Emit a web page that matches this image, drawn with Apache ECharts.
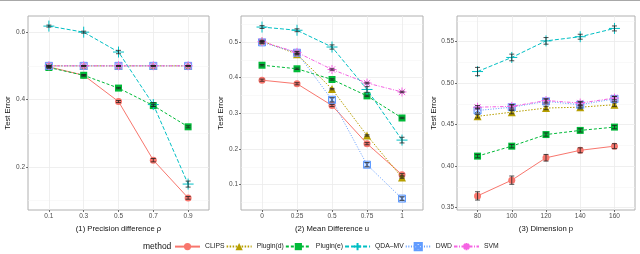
<!DOCTYPE html>
<html><head><meta charset="utf-8">
<script src="https://cdn.jsdelivr.net/npm/echarts@6/dist/echarts.min.js"></script>
<style>html,body{margin:0;padding:0;background:#fff}#c{width:640px;height:254px}</style>
</head><body><div id="c"></div>
<script>
// ---------- data ----------
const methods = ['CLIPS', 'Plugin(d)', 'Plugin(e)', 'QDA–MV', 'DWD', 'SVM'];

const rhoLabels = ['0.1', '0.3', '0.5', '0.7', '0.9'];
const uLabels = ['0', '0.25', '0.5', '0.75', '1'];
const pLabels = ['80', '100', '120', '140', '160'];

// panel 1: Precision difference rho (rows follow `methods`)
const p1Values = [
  [0.497, 0.472, 0.394, 0.220, 0.108],
  [0.500, 0.500, 0.500, 0.500, 0.500],
  [0.495, 0.472, 0.434, 0.382, 0.319],
  [0.618, 0.600, 0.541, 0.385, 0.149],
  [0.500, 0.500, 0.500, 0.500, 0.500],
  [0.500, 0.500, 0.500, 0.500, 0.500]
];
const p1Errors = [
  [0.002, 0.002, 0.003, 0.005, 0.004],
  [0.001, 0.001, 0.001, 0.001, 0.001],
  [0.002, 0.002, 0.002, 0.003, 0.003],
  [0.003, 0.003, 0.005, 0.006, 0.009],
  [0.001, 0.001, 0.001, 0.001, 0.001],
  [0.001, 0.001, 0.001, 0.001, 0.001]
];

// panel 2: Mean difference u
const p2Values = [
  [0.393, 0.383, 0.322, 0.215, 0.128],
  [0.503, 0.466, 0.368, 0.238, 0.120],
  [0.435, 0.425, 0.395, 0.349, 0.287],
  [0.542, 0.533, 0.486, 0.367, 0.225],
  [0.499, 0.470, 0.338, 0.156, 0.061],
  [0.501, 0.471, 0.423, 0.385, 0.360]
];
const p2Errors = [
  [0.003, 0.003, 0.003, 0.003, 0.003],
  [0.002, 0.002, 0.002, 0.002, 0.002],
  [0.002, 0.002, 0.002, 0.002, 0.002],
  [0.004, 0.004, 0.006, 0.008, 0.008],
  [0.003, 0.004, 0.006, 0.006, 0.005],
  [0.002, 0.002, 0.002, 0.002, 0.002]
];

// panel 3: Dimension p
const p3Values = [
  [0.364, 0.383, 0.410, 0.419, 0.424],
  [0.460, 0.465, 0.470, 0.471, 0.474],
  [0.412, 0.424, 0.438, 0.443, 0.447],
  [0.514, 0.531, 0.551, 0.556, 0.566],
  [0.467, 0.471, 0.478, 0.474, 0.481],
  [0.471, 0.472, 0.479, 0.476, 0.482]
];
const p3Errors = [
  [0.005, 0.005, 0.004, 0.003, 0.003],
  [0.002, 0.002, 0.002, 0.002, 0.002],
  [0.002, 0.002, 0.002, 0.002, 0.002],
  [0.005, 0.004, 0.004, 0.003, 0.003],
  [0.003, 0.003, 0.003, 0.003, 0.003],
  [0.002, 0.002, 0.002, 0.002, 0.002]
];

const p1Major = [0.2, 0.4, 0.6], p1Minor = [0.1, 0.3, 0.5];
const p2Major = [0.1, 0.2, 0.3, 0.4, 0.5], p2Minor = [0.05, 0.15, 0.25, 0.35, 0.45, 0.55];
const p3Major = [0.35, 0.40, 0.45, 0.50, 0.55], p3Minor = [0.375, 0.425, 0.475, 0.525, 0.575];

// ---------- styles ----------
const colors = ['#F8766D', '#B79F00', '#00BA38', '#00BFC4', '#619CFF', '#F564E3'];
const dashes = ['solid', [1.5, 1.5], [3, 2], [4, 2], [1, 1.6], [3.5, 1.5, 1, 1.5]];
const symbols = [
  'circle',
  'triangle',
  'rect',
  'path://M5,0 L5,10 M0,5 L10,5',
  'path://M0,0 L10,0 L10,10 L0,10 Z M0,0 L10,10 M10,0 L0,10',
  'path://M5,0 L5,10 M0,5 L10,5 M1.5,1.5 L8.5,8.5 M8.5,1.5 L1.5,8.5'
];
const symSizes = [7, 8, 7, 11, 7, 9];

const panels = [
  {labels: rhoLabels, vals: p1Values, errs: p1Errors, major: p1Major, minor: p1Minor, ymin: 0.072, ymax: 0.648, dec: 1,
   title: '(1) Precision difference ρ', grid: {left: 28, width: 181}, nameGap: 15},
  {labels: uLabels, vals: p2Values, errs: p2Errors, major: p2Major, minor: p2Minor, ymin: 0.029, ymax: 0.573, dec: 1,
   title: '(2) Mean Difference u', grid: {left: 241, width: 182}, nameGap: 15},
  {labels: pLabels, vals: p3Values, errs: p3Errors, major: p3Major, minor: p3Minor, ymin: 0.347, ymax: 0.581, dec: 2,
   title: '(3) Dimension p', grid: {left: 457, width: 178}, nameGap: 18}
];

const grids = [], xAxes = [], yAxes = [], series = [];
const tickIdx = [0, 1, 2, 3, 4];
panels.forEach((p, g) => {
  grids.push({left: p.grid.left, width: p.grid.width, top: 16, height: 194, show: true,
              borderColor: '#b0b0b0', borderWidth: 1, backgroundColor: '#fff'});
  xAxes.push({
    type: 'value', gridIndex: g, min: -0.6, max: 4.6,
    name: p.title, nameLocation: 'middle', nameGap: 10,
    nameTextStyle: {fontSize: 7.7, color: '#111', fontFamily: 'Liberation Sans'},
    axisLine: {show: false, onZero: false},
    axisTick: {show: true, length: 2, lineStyle: {color: '#333', width: 0.7}, customValues: tickIdx},
    axisLabel: {customValues: tickIdx, margin: 3, fontSize: 6.5, color: '#4d4d4d', fontFamily: 'Liberation Sans',
                formatter: v => p.labels[Math.round(v)]},
    splitLine: {show: true, lineStyle: {color: '#ebebeb', width: 0.8}}
  });
  yAxes.push({
    type: 'value', gridIndex: g, min: p.ymin, max: p.ymax, position: 'left',
    name: 'Test Error', nameLocation: 'middle', nameGap: p.nameGap, nameRotate: 90,
    nameTextStyle: {fontSize: 7.7, color: '#111', fontFamily: 'Liberation Sans'},
    axisLine: {show: false, onZero: false},
    axisTick: {show: true, length: 2, lineStyle: {color: '#333', width: 0.7}, customValues: p.major},
    axisLabel: {customValues: p.major, margin: 3, fontSize: 6.5, color: '#4d4d4d', fontFamily: 'Liberation Sans',
                formatter: v => v.toFixed(p.dec)},
    splitLine: {show: true, lineStyle: {color: '#ebebeb', width: 0.8}}
  });
  yAxes.push({
    type: 'value', gridIndex: g, min: p.ymin, max: p.ymax, position: 'left', offset: 0,
    axisLine: {show: false, onZero: false}, axisLabel: {show: false},
    axisTick: {show: false, customValues: p.minor},
    splitLine: {show: true, lineStyle: {color: '#f3f3f3', width: 0.5}}
  });
  methods.forEach((m, k) => {
    series.push({
      type: 'line', name: m, xAxisIndex: g, yAxisIndex: 2 * g,
      data: p.vals[k].map((v, i) => [i, v]),
      symbol: symbols[k], symbolSize: symSizes[k], showSymbol: true,
      lineStyle: {color: colors[k], width: 1, type: dashes[k]},
      itemStyle: k >= 3
        ? {color: k === 4 ? 'rgba(97,156,255,0.25)' : 'rgba(0,0,0,0)', borderColor: colors[k], borderWidth: 1}
        : {color: colors[k], borderWidth: 0},
      emphasis: {disabled: true}, animation: false, z: 2 + k * 0.01
    });
  });
  methods.forEach((m, k) => {
    series.push({
      type: 'custom', xAxisIndex: g, yAxisIndex: 2 * g, z: 4, silent: true, animation: false,
      data: p.vals[k].map((v, i) => [i, v - p.errs[k][i], v + p.errs[k][i]]),
      encode: {x: 0, y: [1, 2]},
      renderItem: (params, api) => {
        const a = api.coord([api.value(0), api.value(1)]);
        const b = api.coord([api.value(0), api.value(2)]);
        const w = 2.5, st = {stroke: '#222', lineWidth: 0.8};
        return {type: 'group', children: [
          {type: 'line', shape: {x1: a[0], y1: a[1], x2: b[0], y2: b[1]}, style: st},
          {type: 'line', shape: {x1: a[0] - w, y1: a[1], x2: a[0] + w, y2: a[1]}, style: st},
          {type: 'line', shape: {x1: b[0] - w, y1: b[1], x2: b[0] + w, y2: b[1]}, style: st}
        ]};
      }
    });
  });
});

const chart = echarts.init(document.getElementById('c'), null, {renderer: 'canvas'});
chart.setOption({
  animation: false,
  textStyle: {fontFamily: 'Liberation Sans'},
  grid: grids, xAxis: xAxes, yAxis: yAxes, series: series,
  legend: {
    data: methods, left: 174, top: 242, itemWidth: 25, itemHeight: 9, itemGap: 1, padding: 0,
    textStyle: {fontSize: 6.8, color: '#222', fontFamily: 'Liberation Sans'},
    selectedMode: false
  },
  graphic: [
    {type: 'text', left: 143, top: 242, style: {text: 'method', fontSize: 8.5, fill: '#111', fontFamily: 'Liberation Sans'}},
    {type: 'line', shape: {x1: 0, y1: 0.5, x2: 640, y2: 0.5}, style: {stroke: '#a8a8a8', lineWidth: 1}}
  ]
});
</script>
</body></html>
